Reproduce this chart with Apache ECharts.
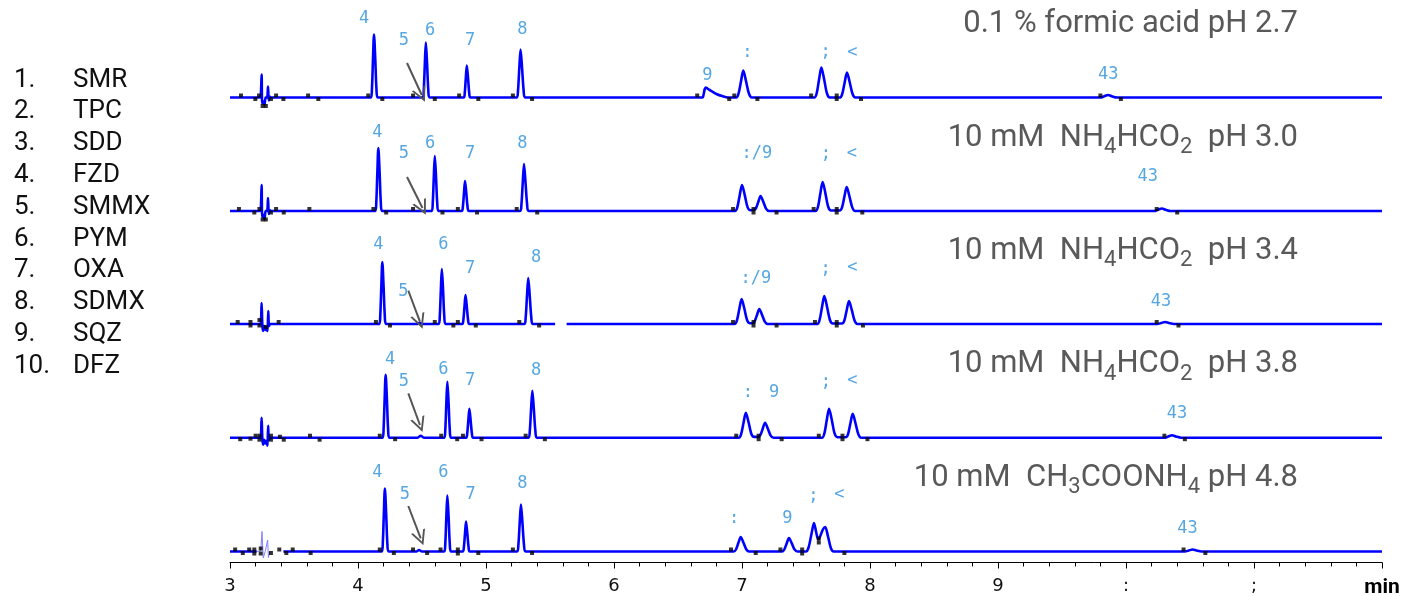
<!DOCTYPE html>
<html><head><meta charset="utf-8">
<style>html,body{margin:0;padding:0;background:#fff}#c{width:1412px;height:596px}</style>
<script src="https://cdn.jsdelivr.net/npm/echarts@6/dist/echarts.min.js"></script>
</head><body><div id="c"></div>
<script>
// ---------- DATA ----------
const compoundNames = ['SMR','TPC','SDD','FZD','SMMX','PYM','OXA','SDMX','SQZ','DFZ'];
const xTickLabels = ['3','4','5','6','7','8','9',':',';','min'];
// title segments: even index = normal text, odd index = subscript
const titles = [
  ['0.1 % formic acid pH 2.7'],
  ['10 mM  NH','4','HCO','2','  pH 3.0'],
  ['10 mM  NH','4','HCO','2','  pH 3.4'],
  ['10 mM  NH','4','HCO','2','  pH 3.8'],
  ['10 mM  CH','3','COONH','4',' pH 4.8']
];
// chromatogram traces [time (min), signal]
const trace1 = [[3,0],[3.2,0],[3.23,0],[3.24,1],[3.247,23],[3.252,-6],[3.262,-4],[3.27,-7],[3.278,0],[3.29,0],[3.297,11],[3.303,-3],[3.31,1],[3.32,0],
 [4.101,0],[4.109,9],[4.117,38],[4.125,63],[4.135,38],[4.144,9],[4.154,0],
 [4.506,0],[4.514,8],[4.522,33],[4.53,55],[4.54,33],[4.549,8],[4.559,0],
 [4.826,0],[4.834,4.5],[4.842,19],[4.85,32],[4.86,19],[4.869,4.5],[4.879,0],
 [5.24,0],[5.25,7],[5.26,29],[5.27,48],[5.282,29],[5.294,7],[5.306,0],
 [6.69,0],[6.70,3],[6.708,8],[6.717,10],[6.73,9],[6.76,6.5],[6.80,3.5],[6.85,1.2],[6.89,0],
 [6.955,0],[6.973,4],[6.992,16],[7.01,27],[7.032,16],[7.054,4],[7.076,0],
 [7.565,0],[7.583,4],[7.602,18],[7.62,30],[7.642,18],[7.664,4],[7.686,0],
 [7.765,0],[7.783,3.5],[7.802,15],[7.82,25],[7.842,15],[7.864,3.5],[7.886,0],
 [9.80,0],[9.83,1.2],[9.86,2.5],[9.89,1.2],[9.93,0],[12,0]];
const trace2 = [[3,0],[3.2,0],[3.23,0],[3.24,1],[3.247,26],[3.252,-6],[3.262,-4],[3.27,-8],[3.278,0],[3.29,0],[3.297,13],[3.303,-3],[3.31,1],[3.32,0],
 [4.135,0],[4.143,9],[4.151,38],[4.159,63],[4.169,38],[4.178,9],[4.188,0],
 [4.576,0],[4.584,8],[4.592,33],[4.60,55],[4.61,33],[4.619,8],[4.629,0],
 [4.81,0],[4.819,4],[4.828,18],[4.836,30],[4.846,18],[4.856,4],[4.866,0],
 [5.267,0],[5.277,7],[5.287,28],[5.297,47],[5.309,28],[5.321,7],[5.333,0],
 [6.945,0],[6.963,3.6],[6.982,15.6],[7.0,26],[7.022,15.6],[7.044,3.6],[7.066,0.8],
 [7.09,1],[7.108,2.5],[7.127,9],[7.145,15],[7.167,9],[7.189,2.1],[7.211,0],
 [7.575,0],[7.593,4],[7.612,17.4],[7.63,29],[7.652,17.4],[7.674,4],[7.696,0.5],
 [7.763,0.5],[7.781,3.4],[7.80,14.4],[7.818,24],[7.84,14.4],[7.862,3.4],[7.884,0],
 [10.22,0],[10.25,1.2],[10.28,2.5],[10.31,1.2],[10.35,0],[12,0]];
const trace3 = [[3,0],[3.2,0],[3.235,0],[3.242,2],[3.247,21],[3.253,-2],[3.26,-7],[3.268,-2],[3.28,-6],[3.287,-3],[3.293,-7],[3.299,13],[3.305,-2],[3.315,0],
 [4.166,0],[4.174,9],[4.182,37],[4.19,62],[4.2,37],[4.209,9],[4.219,0],
 [4.46,0],[4.48,1.2],[4.50,0],
 [4.631,0],[4.639,8],[4.647,33],[4.655,55],[4.665,33],[4.674,8],[4.684,0],
 [4.814,0],[4.823,4],[4.832,17.4],[4.84,29],[4.85,17.4],[4.86,4],[4.87,0],
 [5.30,0],[5.31,6.5],[5.32,27.6],[5.33,46],[5.342,27.6],[5.354,6.5],[5.366,0],
 [5.54,0],[5.585,null],[5.63,0],
 [6.942,0],[6.96,3.5],[6.979,15],[6.997,25],[7.019,15],[7.041,3.5],[7.063,0.8],
 [7.08,0.8],[7.098,2.5],[7.117,9],[7.135,15],[7.157,9],[7.179,2.1],[7.201,0],
 [7.588,0],[7.606,4],[7.625,16.8],[7.643,28],[7.665,16.8],[7.687,4],[7.709,0.5],
 [7.781,0.5],[7.799,3.2],[7.818,13.8],[7.836,23],[7.858,13.8],[7.88,3.2],[7.902,0],
 [10.245,0],[10.275,1],[10.305,2],[10.335,1],[10.375,0],[12,0]];
const trace4 = [[3,0],[3.2,0],[3.235,0],[3.242,2],[3.247,20],[3.253,-2],[3.26,-7],[3.268,-2],[3.28,-6],[3.287,-3],[3.293,-8],[3.298,12],[3.304,-2],[3.315,0],
 [4.192,0],[4.2,9],[4.208,38],[4.216,63],[4.226,38],[4.235,9],[4.245,0],
 [4.465,0],[4.49,2],[4.515,0],
 [4.674,0],[4.682,8],[4.69,34],[4.698,56],[4.708,34],[4.717,8],[4.727,0],
 [4.844,0],[4.853,4],[4.862,17.4],[4.87,29],[4.88,17.4],[4.89,4],[4.90,0],
 [5.332,0],[5.342,6.6],[5.352,28],[5.362,47],[5.374,28],[5.386,6.6],[5.398,0],
 [6.975,0],[6.993,3.5],[7.012,15],[7.03,25],[7.052,15],[7.074,3.5],[7.096,0.8],
 [7.125,0.8],[7.143,2.5],[7.162,9],[7.18,15],[7.202,9],[7.224,2.1],[7.246,0],
 [7.625,0],[7.643,4],[7.662,17.4],[7.68,29],[7.702,17.4],[7.724,4],[7.746,0.5],
 [7.81,0.5],[7.828,3.4],[7.847,14.4],[7.865,24],[7.887,14.4],[7.909,3.4],[7.931,0],
 [10.30,0],[10.33,1.2],[10.36,2.5],[10.39,1.2],[10.43,0],[12,0]];
const trace5 = [[3,0],[3.208,0],[3.3,null],[3.417,0],
 [4.186,0],[4.194,9],[4.202,38],[4.21,63],[4.22,38],[4.229,9],[4.239,0],
 [4.455,0],[4.477,1.5],[4.50,0],
 [4.674,0],[4.682,8],[4.69,34],[4.698,56],[4.708,34],[4.717,8],[4.727,0],
 [4.818,0],[4.827,4.2],[4.836,18],[4.844,30],[4.854,18],[4.864,4.2],[4.874,0],
 [5.243,0],[5.253,6.6],[5.263,28],[5.273,47],[5.285,28],[5.297,6.6],[5.309,0],
 [6.935,0],[6.953,2],[6.972,8.7],[6.99,14.5],[7.012,8.7],[7.034,2],[7.056,0],
 [7.312,0],[7.33,1.9],[7.349,8.1],[7.367,13.5],[7.389,8.1],[7.411,1.9],[7.433,0],
 [7.50,0],[7.52,4],[7.542,17],[7.5625,28.5],[7.58,19],[7.595,12],[7.61,15],[7.632,22],[7.65,24.5],[7.672,15],[7.694,3.5],[7.716,0],
 [10.46,0],[10.49,1],[10.52,2],[10.55,1],[10.59,0],[12,0]];
const noise5 = [[3.208,0],[3.24,0.5],[3.25,20],[3.26,-6.5],[3.275,0],[3.287,-1],[3.294,11.5],[3.30,-6],[3.312,0]];
// integration marks [time, signal]
const markers1 = [[3.086,2],[3.198,-1.5],[3.227,2],[3.255,-8.5],[3.28,-8.5],[3.32,-1.5],[3.36,2],[3.417,-1.5],[3.61,2],[3.69,-1.5],[4.08,2],[4.19,-1.5],[4.43,2],[4.60,-1.5],[4.79,2],[4.94,-1.5],[5.21,2],[5.36,-1.5],[6.65,2],[6.90,-1.5],[6.94,2],[7.12,-1.5],[7.54,2],[7.74,2],[7.74,-1.5],[7.93,-1.5],[9.80,2],[9.96,-1.5]];
const markers2 = [[3.07,2],[3.19,-1.5],[3.23,2],[3.255,-8.5],[3.28,-8.5],[3.32,-1.5],[3.36,2],[3.42,-1.5],[3.62,2],[4.12,2],[4.22,-1.5],[4.43,2],[4.66,-1.5],[4.78,2],[4.93,-1.5],[5.24,2],[5.40,-1.5],[6.93,2],[7.09,2],[7.09,-1.5],[7.27,-1.5],[7.56,2],[7.74,2],[7.74,-1.5],[7.94,-1.5],[10.24,2],[10.40,-1.5]];
const markers3 = [[3.06,2],[3.16,2],[3.16,-1.5],[3.23,4],[3.23,-1.5],[3.28,-3],[3.38,2],[4.14,2],[4.25,-1.5],[4.60,2],[4.745,-1.5],[4.78,2],[4.92,-1.5],[5.26,2],[5.415,-1.5],[6.93,2],[7.09,2],[7.09,-1.5],[7.27,-1.5],[7.57,2],[7.74,2],[7.74,-1.5],[7.945,-1.5],[10.24,2],[10.41,-1.5]];
const markers4 = [[3.08,-1.5],[3.16,-1],[3.2,2],[3.23,2],[3.23,-2],[3.32,2],[3.32,-2],[3.39,1],[3.42,-2],[3.625,2],[3.70,-2],[4.17,2],[4.29,-1.5],[4.65,2],[4.775,-1.5],[4.82,2],[4.965,-1.5],[5.31,2],[5.46,-1.5],[6.955,2],[7.13,2],[7.13,-1.5],[7.31,-1.5],[7.60,2],[7.785,2],[7.785,-1.5],[7.98,-1.5],[10.30,2],[10.46,-1.5]];
const markers5 = [[3.04,2],[3.10,-1.5],[3.15,2],[3.19,2],[3.19,-2],[3.24,3],[3.24,-2],[3.32,-1.5],[3.385,2],[3.44,-1.5],[3.49,2],[3.63,-1.5],[4.17,2],[4.28,-1.5],[4.43,2],[4.54,-1.5],[4.645,2],[4.78,2],[4.78,-2],[4.94,-1.5],[5.21,2],[5.36,-1.5],[6.914,2],[7.107,-1.5],[7.30,2],[7.47,2],[7.47,-2],[7.60,13],[7.60,9],[7.80,-1.5],[10.45,2],[10.62,-1.5]];
// peak labels [time, signal, text]
const labels1 = [[4.047,79,'4'],[4.359,56.5,'5'],[4.5625,67,'6'],[4.875,57,'7'],[5.284,67.5,'8'],[6.729,22,'9'],[7.041,45,':'],[7.654,45,';'],[7.862,45,'<'],[9.862,22.5,'43']];
const labels2 = [[4.151,78.3,'4'],[4.359,57,'5'],[4.5625,67.7,'6'],[4.875,57.7,'7'],[5.284,67.7,'8'],[7.117,57,':/9'],[7.656,56,';'],[7.859,57,'<'],[10.169,34.3,'43']];
const labels3 = [[4.159,79,'4'],[4.354,32.3,'5'],[4.666,79,'6'],[4.875,55.7,'7'],[5.391,66.3,'8'],[7.109,45,':/9'],[7.654,54,';'],[7.862,56,'<'],[10.273,22.3,'43']];
const labels4 = [[4.25,77.7,'4'],[4.359,56,'5'],[4.666,67.7,'6'],[4.875,57,'7'],[5.391,67,'8'],[7.045,45,':'],[7.25,45.4,'9'],[7.656,55,';'],[7.862,57,'<'],[10.398,23.7,'43']];
const labels5 = [[4.151,79.2,'4'],[4.367,56.5,'5'],[4.666,79.2,'6'],[4.88,56.5,'7'],[5.284,67.5,'8'],[6.9375,33,':'],[7.354,33.2,'9'],[7.557,55,';'],[7.76,56.5,'<'],[10.48,22.5,'43']];
// arrows pointing at peak 5 [[from],[to]]
const arrows = [
  [[4.383,34.5],[4.498,2.5]],
  [[4.383,34],[4.504,3]],
  [[4.393,33.3],[4.484,2.3]],
  [[4.393,44.4],[4.484,12.7]],
  [[4.393,45.5],[4.49,13.2]]
];

// ---------- CHART ----------
const traces = [trace1, trace2, trace3, trace4, trace5];
const markers = [markers1, markers2, markers3, markers4, markers5];
const labels = [labels1, labels2, labels3, labels4, labels5];
const baselines = [97.5, 211, 324, 437.7, 551.5];
const chevron = 'path://M5,0L10,10L8.6,10L5,2.8L1.4,10L0,10Z';

const grid = baselines.map(b => ({left: 230, right: 30, top: b - 95, height: 106,
  containLabel: false, outerBoundsMode: 'none'}));
const xAxis = baselines.map((b, i) => ({
  gridIndex: i, type: 'value', min: 3, max: 12, interval: 1, show: i === 4,
  axisLine: {show: true, onZero: false, lineStyle: {color: '#000', width: 1}},
  axisTick: {show: true, length: 6, inside: false, lineStyle: {color: '#000', width: 1}},
  minorTick: {show: true, splitNumber: 5, length: 4, lineStyle: {color: '#000', width: 1}},
  splitLine: {show: false}, minorSplitLine: {show: false},
  axisLabel: {
    show: true, margin: 15, color: '#111', fontFamily: 'DejaVu Sans', fontSize: 18,
    showMinLabel: true, showMaxLabel: true, hideOverlap: false,
    formatter: v => { const k = Math.round(v - 3); const t = xTickLabels[k]; return k === 9 ? '{b|' + t + '}' : t; },
    rich: {b: {fontFamily: 'Roboto', fontWeight: 'bold', fontSize: 21, color: '#000'}}
  }
}));
const yAxis = baselines.map((b, i) => ({gridIndex: i, type: 'value', min: -11, max: 95, show: false}));

const series = [];
traces.forEach((tr, i) => {
  series.push({
    type: 'line', xAxisIndex: i, yAxisIndex: i, data: tr, showSymbol: false, smooth: 0.3,
    connectNulls: false, clip: false, silent: true, z: 2,
    lineStyle: {color: '#0000ff', width: 2.6},
    markLine: {
      silent: true, symbol: ['none', chevron], symbolSize: [15, 15], animation: false,
      lineStyle: {color: '#555555', width: 2, type: 'solid'}, label: {show: false},
      data: [[{coord: arrows[i][0]}, {coord: arrows[i][1]}]]
    }
  });
  series.push({
    type: 'scatter', xAxisIndex: i, yAxisIndex: i, data: markers[i], symbol: 'rect', symbolSize: [4, 4],
    itemStyle: {color: '#000'}, silent: true, z: 3
  });
  series.push({
    type: 'scatter', xAxisIndex: i, yAxisIndex: i, data: labels[i], symbol: 'circle', symbolSize: 1,
    itemStyle: {color: 'rgba(0,0,0,0)'}, silent: true, z: 4,
    label: {show: true, position: 'inside', formatter: p => p.data[2], color: '#2a90da',
      fontFamily: 'DejaVu Sans Mono', fontSize: 17}
  });
});
series.push({
  type: 'line', xAxisIndex: 4, yAxisIndex: 4, data: noise5, showSymbol: false, silent: true, z: 1,
  lineStyle: {color: '#8080ff', width: 1}
});

// titles with subscripts: segments laid out left to right, right edge at x = 1298
const measure = document.createElement('canvas').getContext('2d');
const MAIN_FS = 31, SUB_FS = 22, TITLE_RIGHT = 1298, TITLE_COLOR = '#595959';
const graphic = [];
titles.forEach((segs, i) => {
  const base = baselines[i] - 64.3; // alphabetic baseline of the title
  const widths = segs.map((s, k) => {
    measure.font = (k % 2 === 0 ? MAIN_FS : SUB_FS) + 'px Roboto';
    return measure.measureText(s).width;
  });
  let x = TITLE_RIGHT - widths.reduce((a, b) => a + b, 0);
  segs.forEach((s, k) => {
    const sub = k % 2 === 1;
    graphic.push({
      type: 'text', x: x, y: sub ? base + 0.6 : base - 8.8, silent: true,
      style: {text: s, fontFamily: 'Roboto', fontSize: sub ? SUB_FS : MAIN_FS, fill: TITLE_COLOR,
        align: 'left', verticalAlign: 'middle'}
    });
    x += widths[k];
  });
});
compoundNames.forEach((n, i) => {
  const y = 80 + i * 31.8;
  graphic.push({type: 'text', x: 14, y: y, silent: true,
    style: {text: (i + 1) + '.', fontFamily: 'Roboto', fontSize: 26, fill: '#111', align: 'left', verticalAlign: 'middle'}});
  graphic.push({type: 'text', x: 73, y: y, silent: true,
    style: {text: n, fontFamily: 'Roboto', fontSize: 26, fill: '#111', align: 'left', verticalAlign: 'middle'}});
});

const chart = echarts.init(document.getElementById('c'), null, {renderer: 'canvas'});
chart.setOption({
  animation: false, backgroundColor: '#fff',
  grid: grid, xAxis: xAxis, yAxis: yAxis, series: series, graphic: graphic,
  tooltip: {show: false}, legend: {show: false}
});
</script></body></html>
